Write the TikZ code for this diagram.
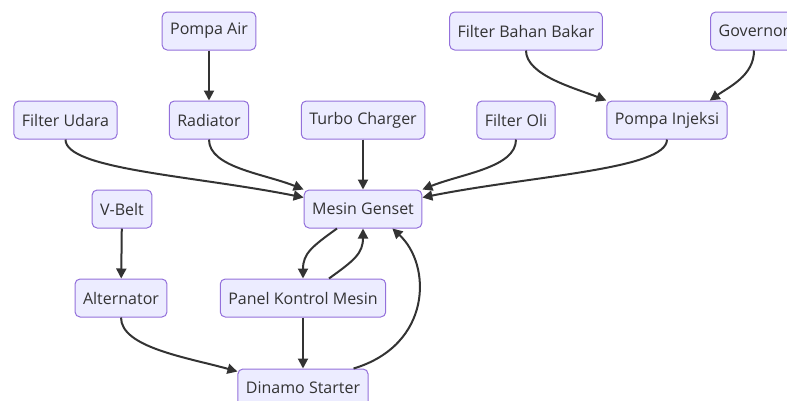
\documentclass[tikz,border=0pt]{standalone}
\usepackage{fontspec}
\setmainfont{Open Sans}
\usetikzlibrary{arrows.meta}
\definecolor{boxfill}{HTML}{ECECFF}
\definecolor{boxline}{HTML}{9370DB}
\definecolor{ink}{HTML}{333333}
\begin{document}
\begin{tikzpicture}[x=1pt,y=1pt,>={Triangle[length=10pt,width=10pt]},font=\fontsize{16}{18}\selectfont,
	part/.style={draw=boxline,fill=boxfill,rounded corners=5pt,line width=1pt,minimum height=38pt,inner xsep=8pt,text=ink},
	flow/.style={->,draw=ink,line width=2pt}]
	\useasboundingbox (0,0) rectangle (787,-400);
	% top row
	\node[part] (pa) at (209,-31) {Pompa Air};
	\node[part] (fbb) at (526,-31) {Filter Bahan Bakar};
	\node[part] (gov) at (754,-31) {Governor};
	% second row
	\node[part] (fu) at (65.5,-120) {Filter Udara};
	\node[part] (rad) at (209,-120) {Radiator};
	\node[part] (tc) at (363,-120) {Turbo Charger};
	\node[part] (fo) at (516,-120) {Filter Oli};
	\node[part] (pi) at (667,-120) {Pompa Injeksi};
	% lower part
	\node[part] (mg) at (363,-209) {Mesin Genset};
	\node[part] (vb) at (122,-209) {V-Belt};
	\node[part] (alt) at (121,-298) {Alternator};
	\node[part] (pkm) at (303,-298) {Panel Kontrol Mesin};
	\node[part] (ds) at (303,-388) {Dinamo Starter};
	% connectors
	\draw[flow] (pa) -- (rad);
	\draw[flow] (fbb.south) .. controls +(0,-25) and +(-30,12) .. (pi.north west);
	\draw[flow] (gov.south) .. controls +(0,-25) and +(20,14) .. ([xshift=-18pt]pi.north east);
	\draw[flow] (fu.south) .. controls +(0,-30) and +(-110,22) .. ([yshift=-8pt]mg.north west);
	\draw[flow] (rad.south) .. controls +(0,-28) and +(-40,16) .. (mg.north west);
	\draw[flow] (tc) -- (mg);
	\draw[flow] (fo.south) .. controls +(0,-28) and +(40,16) .. (mg.north east);
	\draw[flow] (pi.south) .. controls +(0,-30) and +(110,22) .. ([yshift=-8pt]mg.north east);
	\draw[flow] (vb) -- (alt);
	\draw[flow] (alt.south) .. controls +(0,-30) and +(-50,14) .. ([yshift=-3pt]ds.north west);
	\draw[flow] ([xshift=-26pt]mg.south) .. controls +(-25,-18) and +(0,25) .. (pkm.north);
	\draw[flow] ([xshift=26pt]pkm.north) .. controls +(25,18) and +(0,-25) .. (mg.south);
	\draw[flow] (pkm) -- (ds);
	\draw[flow] ([xshift=-15pt]ds.north east) .. controls (432,-345) and (432,-265) .. ([xshift=-30pt]mg.south east);
\end{tikzpicture}
\end{document}
